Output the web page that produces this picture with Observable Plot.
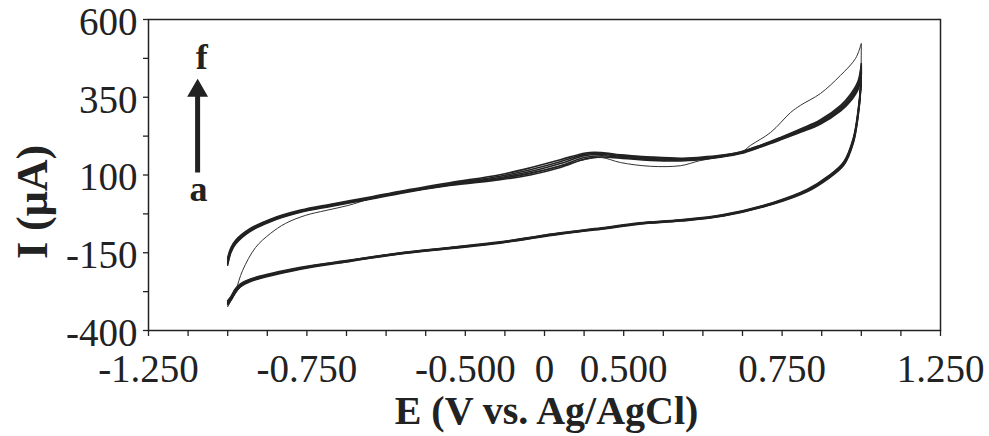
<!DOCTYPE html>
<html><head><meta charset="utf-8">
<script src="https://cdn.jsdelivr.net/npm/d3@7"></script>
<script src="https://cdn.jsdelivr.net/npm/@observablehq/plot@0.6"></script>
<style>
html,body{margin:0;padding:0;background:#fff}
#chart svg{font-family:"Liberation Serif","DejaVu Serif",serif}
</style>
</head><body><div id="chart"></div>
<script>
// ---- data ----
const cycles = ["b", "c", "d", "e", "f"];

// potentials of the anodic (forward) and cathodic (return) scans, V
const E_forward = [-1.0, -0.99, -0.975, -0.93, -0.865, -0.77, -0.675, -0.55, -0.455, -0.3, -0.14, -0.045, 0.05, 0.13, 0.18, 0.24, 0.335, 0.43, 0.49, 0.555, 0.62, 0.68, 0.745, 0.81, 0.87, 0.935, 0.965, 0.99, 1.0];
const E_reverse = [1.0, 0.998, 0.99, 0.975, 0.945, 0.895, 0.83, 0.72, 0.565, 0.43, 0.3, 0.18, 0.05, -0.14, -0.3, -0.455, -0.61, -0.77, -0.93, -0.96, -0.975, -0.99, -1.0];

// currents, µA
const I_fwd_b = [-190, -150, -122, -82, -50, -20, -1, 22, 41, 66, 85, 100, 124, 152, 158, 154, 147, 145, 149, 157, 169, 189, 213, 238, 263, 306, 336, 376, 430];
const I_fwd_c = [-184, -146, -119, -80, -48, -18, 1, 24, 43, 68, 89, 106, 130, 157, 162, 157, 150, 148, 151, 159, 171, 191, 215, 241, 266, 310, 341, 382, 436];
const I_fwd_d = [-178, -142, -116, -78, -46, -17, 2, 25, 44, 70, 92, 111, 137, 163, 166, 160, 153, 150, 153, 160, 172, 192, 217, 243, 269, 314, 346, 388, 442];
const I_fwd_e = [-172, -138, -113, -76, -44, -15, 4, 27, 46, 72, 96, 117, 143, 167, 169, 163, 156, 152, 155, 162, 174, 194, 219, 246, 273, 319, 352, 395, 450];
const I_fwd_f = [-166, -134, -110, -73, -42, -13, 6, 29, 48, 75, 101, 123, 149, 171, 172, 165, 158, 154, 157, 163, 175, 195, 221, 249, 277, 324, 358, 402, 458];

const I_rev_b = [430, 372, 290, 204, 132, 88, 47, 6, -32, -48, -58, -74, -90, -119, -137, -154, -177, -203, -243, -260, -277, -303, -316];
const I_rev_c = [436, 377, 294, 208, 135, 90, 49, 7, -31, -47, -57, -73, -89, -118, -136, -153, -176, -201, -241, -257, -274, -300, -313];
const I_rev_d = [442, 381, 298, 211, 137, 92, 50, 8, -30, -46, -56, -72, -88, -117, -135, -152, -175, -200, -239, -255, -271, -297, -310];
const I_rev_e = [450, 386, 303, 215, 140, 94, 52, 10, -29, -45, -55, -71, -87, -116, -134, -151, -174, -199, -237, -253, -268, -294, -307];
const I_rev_f = [458, 391, 308, 219, 143, 96, 54, 11, -27, -44, -54, -70, -86, -115, -133, -150, -173, -197, -235, -250, -265, -291, -304];

// first cycle (a), drawn thin
const E_fwd_a = [-1.0, -0.975, -0.953, -0.912, -0.865, -0.818, -0.755, -0.69, -0.62, -0.55, -0.455, -0.3, -0.14, -0.045, 0.05, 0.13, 0.18, 0.24, 0.335, 0.43, 0.49, 0.555, 0.62, 0.65, 0.714, 0.777, 0.808, 0.871, 0.934, 0.982, 1.0];
const I_fwd_a = [-323, -271, -207, -133, -88, -56, -30, -14, 2, 23, 42, 67, 88, 104, 128, 150, 156, 140, 128, 130, 146, 158, 172, 195, 237, 301, 324, 362, 420, 475, 523];
const E_rev_a = [1.0, 0.998, 0.99, 0.975, 0.945, 0.895, 0.83, 0.72, 0.565, 0.43, 0.3, 0.18, 0.05, -0.14, -0.3, -0.455, -0.61, -0.77, -0.93, -0.96, -0.975, -0.99, -1.0];
const I_rev_a = [523, 395, 305, 218, 141, 94, 51, 8, -30, -46, -56, -72, -88, -117, -135, -152, -175, -201, -242, -260, -280, -305, -323];

// axis ticks
const xTickMarks = [-1.25, -1.125, -1.0, -0.875, -0.75, -0.625, -0.5, -0.375, -0.25, -0.125, 0, 0.125, 0.25, 0.375, 0.5, 0.625, 0.75, 0.875, 1.0, 1.125, 1.25];
const xTickValues = [-1.25, -0.75, -0.25, 0, 0.25, 0.75, 1.25];
const xTickLabels = ["-1.250", "-0.750", "-0.500", "0", "0.500", "0.750", "1.250"];
const yTickMarks = [-400, -275, -150, -25, 100, 225, 350, 475, 600];
const yTickValues = [-400, -150, 100, 350, 600];
const yTickLabels = ["-400", "-150", "100", "350", "600"];

// annotation (arrow from a to f)
const arrowE = -1.095, arrowTail = 108, arrowTip = 404;
const labelF = {E: -1.082, I: 442, text: "f"};
const labelA = {E: -1.092, I: 18, text: "a"};

// ---- build tidy rows ----
const fwd = {b: I_fwd_b, c: I_fwd_c, d: I_fwd_d, e: I_fwd_e, f: I_fwd_f};
const rev = {b: I_rev_b, c: I_rev_c, d: I_rev_d, e: I_rev_e, f: I_rev_f};
const rows = [];
for (const c of cycles) {
  E_forward.forEach((E, i) => rows.push({cycle: c, E, I: fwd[c][i]}));
  E_reverse.forEach((E, i) => rows.push({cycle: c, E, I: rev[c][i]}));
}
const rowsA = [];
E_fwd_a.forEach((E, i) => rowsA.push({cycle: "a", E, I: I_fwd_a[i]}));
E_rev_a.forEach((E, i) => rowsA.push({cycle: "a", E, I: I_rev_a[i]}));

const xLabelMap = new Map(xTickValues.map((v, i) => [v, xTickLabels[i]]));
const yLabelMap = new Map(yTickValues.map((v, i) => [v, yTickLabels[i]]));
const ink = "#222";

const chart = Plot.plot({
  width: 989,
  height: 436,
  marginLeft: 148,
  marginRight: 49,
  marginTop: 19,
  marginBottom: 106,
  style: {fontFamily: "Liberation Serif, DejaVu Serif, serif", fontSize: "39px", color: ink, background: "#fff"},
  x: {domain: [-1.25, 1.25]},
  y: {domain: [-400, 600]},
  marks: [
    Plot.axisX({ticks: xTickMarks, tickSize: 6, tickFormat: () => "", stroke: ink, strokeWidth: 1.3, label: null}),
    Plot.axisX({ticks: xTickValues, tickSize: 0, tickPadding: 24, tickFormat: d => xLabelMap.get(d), fill: ink, label: null}),
    Plot.axisY({ticks: yTickMarks, tickSize: 5, tickFormat: () => "", stroke: ink, strokeWidth: 1.3, label: null}),
    Plot.axisY({ticks: yTickValues, tickSize: 0, tickPadding: 11, dy: 3, tickFormat: d => yLabelMap.get(d), fill: ink, label: null}),
    Plot.line(rowsA, {x: "E", y: "I", z: "cycle", stroke: "#333", strokeWidth: 1, curve: "catmull-rom"}),
    Plot.line(rows, {x: "E", y: "I", z: "cycle", stroke: ink, strokeWidth: 1.6, curve: "catmull-rom"}),
    Plot.frame({stroke: ink, strokeWidth: 1.5}),
    // arrow a -> f
    Plot.link([0], {x1: () => arrowE, x2: () => arrowE, y1: () => arrowTail, y2: () => arrowTip - 40, stroke: ink, strokeWidth: 5}),
    Plot.dot([0], {x: () => arrowE, y: () => arrowTip - 33, symbol: "triangle", r: 6.8, fill: ink, stroke: ink}),
    Plot.text([labelF, labelA], {x: "E", y: "I", text: "text", fontWeight: "bold", fontSize: 36, lineAnchor: "bottom", fill: ink}),
    // axis titles
    Plot.text([0], {frameAnchor: "left", text: () => "I (\u03BCA)", rotate: -90, dx: -116, dy: 27, fontWeight: "bold", fontSize: 44, fill: ink, textAnchor: "middle", lineAnchor: "middle"}),
    Plot.text([0], {frameAnchor: "bottom", text: () => "E (V vs. Ag/AgCl)", dx: 2, dy: 93, fontWeight: "bold", fontSize: 40, fill: ink, textAnchor: "middle", lineAnchor: "bottom"})
  ]
});
document.getElementById("chart").append(chart);
</script>
</body></html>
